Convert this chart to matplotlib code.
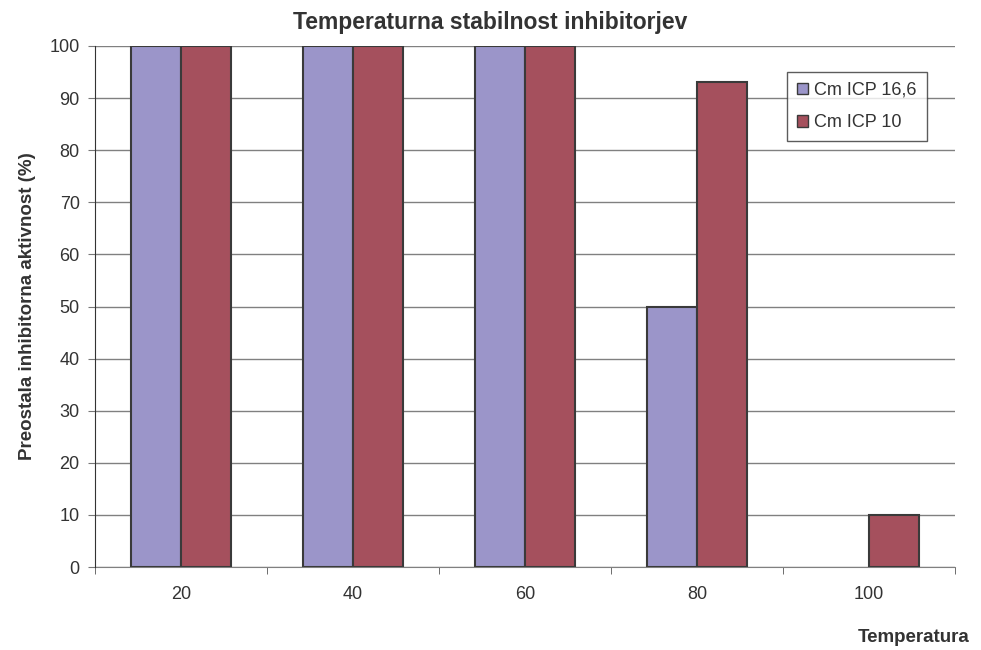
import numpy as np
import matplotlib.pyplot as plt
from matplotlib.ticker import FixedLocator

plt.rcParams['font.family'] = ['Liberation Sans', 'DejaVu Sans']

temperatures = ['20', '40', '60', '80', '100']
cm_icp_16_6 = [100, 100, 100, 50, np.nan]   # no bar at 100
cm_icp_10 = [100, 100, 100, 93, 10]
labels = ['Cm ICP 16,6', 'Cm ICP 10']

fig = plt.figure(figsize=(9.81, 6.5), dpi=100)
ax = fig.add_axes([95 / 981, 1 - 567 / 650, 860 / 981, 521 / 650])

x = np.arange(len(temperatures))
w = 0.289
edge = '#3a3a3a'
ax.bar(x - w / 2, cm_icp_16_6, width=w, color='#9b95c9', edgecolor=edge,
       linewidth=1.5, label=labels[0], zorder=3)
ax.bar(x + w / 2, cm_icp_10, width=w, color='#a5505d', edgecolor=edge,
       linewidth=1.5, label=labels[1], zorder=3)

ax.set_xlim(-0.5, len(temperatures) - 0.5)
ax.set_ylim(0, 100)
ax.set_yticks(range(0, 101, 10))
ax.set_xticks(x)
ax.set_xticklabels(temperatures)
ax.xaxis.set_minor_locator(FixedLocator(np.arange(-0.5, len(temperatures), 1)))
ax.tick_params(axis='x', which='major', length=0, pad=14, labelsize=13, labelcolor='#333333')
ax.tick_params(axis='x', which='minor', length=5, color='#555555', direction='out')
ax.tick_params(axis='y', length=5, color='#777777', labelsize=13, labelcolor='#333333', pad=6)

ax.grid(axis='y', color='#808080', linewidth=1, zorder=0)
for s in ['top', 'right']:
    ax.spines[s].set_visible(False)
ax.spines['left'].set_color('#333333')
ax.spines['bottom'].set_color('#808080')
ax.spines['left'].set_zorder(4)

fig.text(0.5, 1 - 22 / 650, 'Temperaturna stabilnost inhibitorjev', ha='center', va='center',
         fontsize=16.5, fontweight='bold', color='#333333')
ax.set_ylabel('Preostala inhibitorna aktivnost (%)', fontsize=13.5, fontweight='bold',
              color='#333333', labelpad=10)
fig.text(970 / 981, 1 - 638 / 650, 'Temperatura', ha='right', va='center',
         fontsize=13.5, fontweight='bold', color='#333333')

leg = ax.legend(loc='upper left', bbox_to_anchor=((787 - 95) / 860, (567 - 72) / 521),
                fontsize=13, frameon=True, fancybox=False, handlelength=0.6,
                handleheight=0.6, handletextpad=0.35, labelspacing=0.85,
                borderpad=0.55, borderaxespad=0, labelcolor='#333333')
leg.get_frame().set_edgecolor('#333333')
leg.get_frame().set_linewidth(1)
for h in leg.legend_handles:
    h.set_linewidth(1)

plt.savefig('out.png', dpi=100)
